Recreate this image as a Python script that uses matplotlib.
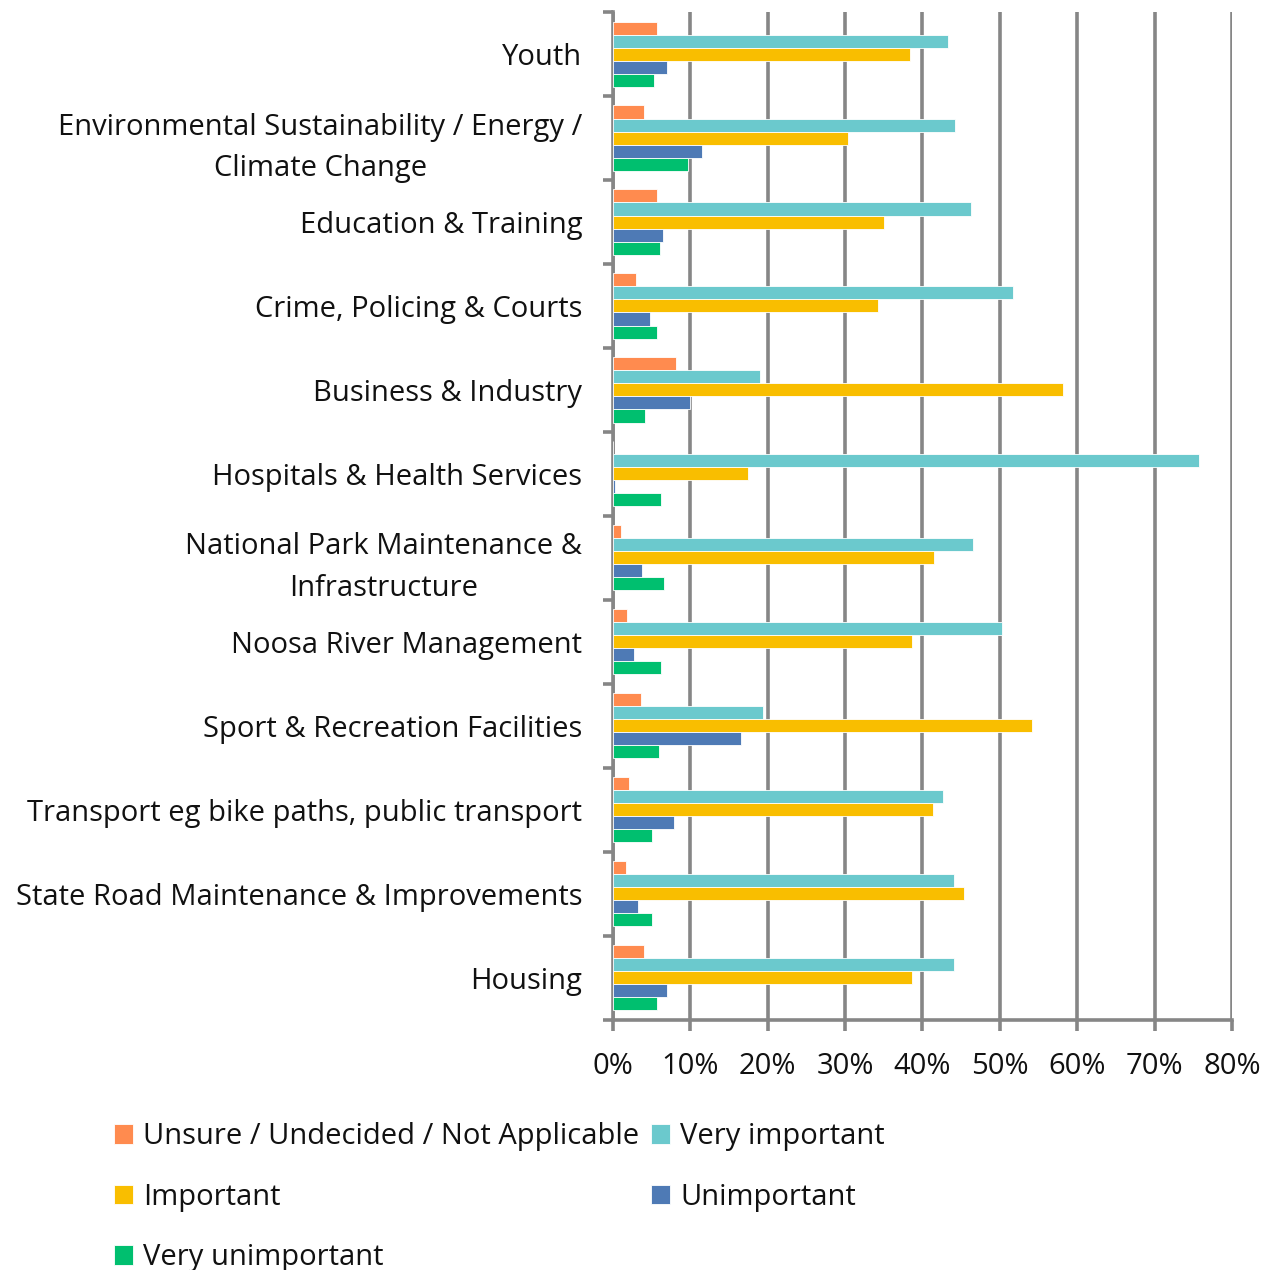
import matplotlib
matplotlib.use("Agg")
import matplotlib.pyplot as plt
import numpy as np

plt.rcParams["font.family"] = ["Open Sans", "DejaVu Sans"]

categories = [
    "Youth",
    "Environmental Sustainability / Energy /\nClimate Change",
    "Education & Training",
    "Crime, Policing & Courts",
    "Business & Industry",
    "Hospitals & Health Services",
    "National Park Maintenance &\nInfrastructure",
    "Noosa River Management",
    "Sport & Recreation Facilities",
    "Transport eg bike paths, public transport",
    "State Road Maintenance & Improvements",
    "Housing",
]
series = ["Unsure / Undecided / Not Applicable", "Very important", "Important",
          "Unimportant", "Very unimportant"]
colors = ["#FF8B4F", "#6BC9CD", "#F9BE00", "#4E7AB5", "#00BF6F"]

# percentages, per category (top to bottom)
unsure = [5.7, 4.0, 5.7, 3.0, 8.2, 0.0, 1.0, 1.8, 3.6, 2.1, 1.7, 4.0]
very_imp = [43.3, 44.2, 46.3, 51.7, 19.0, 75.7, 46.5, 50.3, 19.4, 42.6, 44.1, 44.1]
important = [38.4, 30.4, 35.0, 34.3, 58.2, 17.4, 41.5, 38.7, 54.1, 41.4, 45.4, 38.7]
unimp = [7.0, 11.5, 6.5, 4.8, 10.0, 0.3, 3.8, 2.7, 16.5, 7.9, 3.2, 7.0]
very_unimp = [5.3, 9.7, 6.1, 5.7, 4.1, 6.2, 6.6, 6.2, 5.9, 5.0, 5.0, 5.7]
values = [unsure, very_imp, important, unimp, very_unimp]

fig = plt.figure(figsize=(12.73, 12.70), dpi=100)
ax = fig.add_axes([0.4815, 0.197, 0.4863, 0.7935])

y = np.arange(len(categories))
h = 0.155
bars = []
for j, (vals, c) in enumerate(zip(values, colors)):
    b = ax.barh(y + (j - 2) * h, vals, height=h, color=c,
                edgecolor="white", linewidth=0.6, label=series[j], zorder=3)
    bars.append(b)

ax.set_xlim(0, 80)
ax.set_ylim(len(categories) - 0.5, -0.5)
ax.set_xticks(np.arange(0, 81, 10))
ax.set_xticklabels([f"{v}%" for v in range(0, 81, 10)])
ax.set_yticks(y)
ax.set_yticklabels(categories)
ax.set_yticks(np.arange(-0.5, len(categories), 1), minor=True)

grid_c = "#868686"
ax.grid(axis="x", color=grid_c, linewidth=2.6, zorder=0)
for s in ["top", "right"]:
    ax.spines[s].set_visible(False)
for s in ["left", "bottom"]:
    ax.spines[s].set_color(grid_c)
    ax.spines[s].set_linewidth(2.6)

ax.tick_params(axis="y", which="major", length=0, pad=22, labelsize=21, labelcolor="#111111")
ax.tick_params(axis="y", which="minor", length=7, width=2.6, color=grid_c)
ax.tick_params(axis="x", length=8, width=2.6, color=grid_c, pad=15, labelsize=21, labelcolor="#111111")
for lbl in ax.get_yticklabels():
    lbl.set_multialignment("center")
    lbl.set_linespacing(1.55)

order = [0, 2, 4, 1, 3]
leg = fig.legend([bars[i] for i in order], [series[i] for i in order],
                 loc="upper left", bbox_to_anchor=(0.0895, 0.1165), ncol=2,
                 frameon=False, fontsize=21, handlelength=0.65, handleheight=0.65,
                 handletextpad=0.35, columnspacing=0.4, labelspacing=1.08,
                 borderpad=0, borderaxespad=0)
for t in leg.get_texts():
    t.set_color("#111111")

fig.savefig("out.png", dpi=100)
